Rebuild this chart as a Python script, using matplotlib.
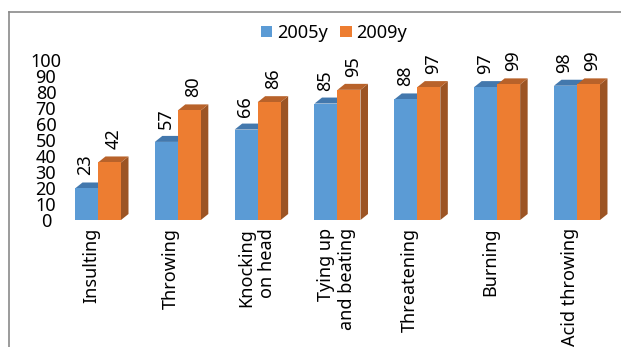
import matplotlib
matplotlib.use("Agg")
import matplotlib.pyplot as plt
from matplotlib.patches import Polygon
from matplotlib.lines import Line2D
from matplotlib.transforms import ScaledTranslation

# ---- data ----
categories = ["Insulting", "Throwing", "Knocking\non head", "Tying up\nand beating",
              "Threatening", "Burning", "Acid throwing"]
values_2005 = [23, 57, 66, 85, 88, 97, 98]
values_2009 = [42, 80, 86, 95, 97, 99, 99]
series_names = ["2005y", "2009y"]
y_ticks = list(range(0, 101, 10))

# ---- style ----
blue_front, blue_top, blue_side = "#5B9BD5", "#4378AD", "#3A6896"
orange_front, orange_top, orange_side = "#ED7D31", "#B8622A", "#9C5424"
frame_color = "#8A8A8A"
plt.rcParams["font.family"] = ["Noto Sans", "DejaVu Sans"]
FS = 13

W, H, DPI = 621, 347, 100
fig = plt.figure(figsize=(W / DPI, H / DPI), dpi=DPI)
fig.patch.set_facecolor("white")

# plot area in pixels (from the top-left corner)
L, R, T, B = 62, 621, 60, 220
ax = fig.add_axes([L / W, 1 - B / H, (R - L) / W, (B - T) / H])
group_px = 79.83          # pixels between category centres
first_px = 98             # pixel x of the first category centre
unit_px = 1.37            # pixels per value unit for bar heights
ax.set_xlim((L - first_px) / group_px, (R - first_px) / group_px)
ax.set_ylim(0, (B - T) / unit_px)

bw = 23 / group_px        # bar width
dx = 7.5 / group_px       # depth offset of the 3-D faces
dy = 6 / unit_px

def box(x0, h, front, top, side, z):
    x1 = x0 + bw
    ax.add_patch(Polygon([(x1, 0), (x1 + dx, dy), (x1 + dx, h + dy), (x1, h)],
                         closed=True, facecolor=side, edgecolor="none",
                         zorder=z, clip_on=False))
    ax.add_patch(Polygon([(x0, h), (x1, h), (x1 + dx, h + dy), (x0 + dx, h + dy)],
                         closed=True, facecolor=top, edgecolor="none",
                         zorder=z, clip_on=False))

xs = list(range(len(categories)))
for i in xs:
    box(i - bw, values_2005[i], blue_front, blue_top, blue_side, 2)
    box(i, values_2009[i], orange_front, orange_top, orange_side, 4)
ax.bar([i - bw / 2 for i in xs], values_2005, width=bw, color=blue_front,
       zorder=3, label=series_names[0])
ax.bar([i + bw / 2 for i in xs], values_2009, width=bw, color=orange_front,
       zorder=5, label=series_names[1])

# value labels above the bars
pt = 72 / DPI
for i in xs:
    ax.annotate(str(values_2005[i]), (i - bw / 2, values_2005[i]),
                xytext=(-1 * pt, 13 * pt), textcoords="offset points",
                rotation=90, ha="center", va="bottom", fontsize=FS, zorder=6)
    ax.annotate(str(values_2009[i]), (i + bw / 2, values_2009[i]),
                xytext=(4 * pt, 13 * pt), textcoords="offset points",
                rotation=90, ha="center", va="bottom", fontsize=FS, zorder=6)

# category axis
ax.set_xticks(xs, labels=categories, rotation=90, fontsize=FS)
ax.tick_params(axis="x", length=0, pad=8 * pt)
for lab in ax.get_xticklabels():
    lab.set_multialignment("right")
    lab.set_linespacing(1.25)
    shift = -1 if "\n" in lab.get_text() else -7
    lab.set_transform(lab.get_transform() +
                      ScaledTranslation(shift / DPI, 0, fig.dpi_scale_trans))
ax.set_yticks([])
for s in ax.spines.values():
    s.set_visible(False)

# value axis labels
k = unit_px / 1.6
sec = ax.secondary_yaxis("left", functions=(lambda y: y * k, lambda t: t / k))
sec.set_yticks(y_ticks)
sec.tick_params(axis="y", length=0, pad=16 * pt, labelsize=FS)
for lab in sec.get_yticklabels():
    lab.set_horizontalalignment("center")
for s in sec.spines.values():
    s.set_visible(False)

# legend
fig.legend(loc="center", bbox_to_anchor=(334 / W, 1 - 33 / H), ncol=2,
           frameon=False, fontsize=FS, handlelength=0.62, handleheight=0.62,
           handletextpad=0.25, columnspacing=0.7, borderaxespad=0)

# chart frame (top and left edges)
fig.add_artist(Line2D([9 / W, 1], [1 - 12 / H, 1 - 12 / H], color=frame_color,
                      lw=1.2, transform=fig.transFigure))
fig.add_artist(Line2D([9 / W, 9 / W], [0, 1 - 12 / H], color=frame_color,
                      lw=1.2, transform=fig.transFigure))

fig.savefig("out.png", dpi=DPI)
